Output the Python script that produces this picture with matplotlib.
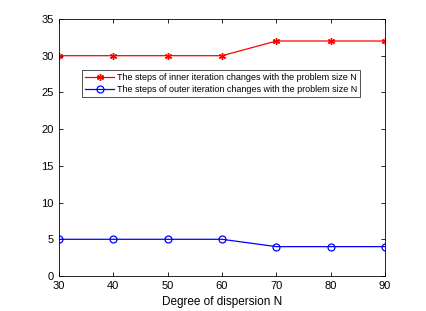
import matplotlib
matplotlib.use("Agg")
import matplotlib.pyplot as plt

plt.rcParams["font.family"] = ["Liberation Sans", "DejaVu Sans"]

# data
N_values = [30, 40, 50, 60, 70, 80, 90]
inner_steps = [30, 30, 30, 30, 32, 32, 32]
outer_steps = [5, 5, 5, 5, 4, 4, 4]

inner_label = "The steps of inner iteration changes with the problem size N"
outer_label = "The steps of outer iteration changes with the problem size N"

fig = plt.figure(figsize=(4.26, 3.11), dpi=100)
ax = fig.add_axes([0.1385, 0.1125, 0.7655, 0.8265])

ax.plot(N_values, inner_steps, color="red", marker=(6, 2, 0), markersize=5,
        markeredgewidth=1.0, linewidth=0.9, label=inner_label)
ax.plot(N_values, outer_steps, color="blue", marker="o", markersize=5,
        markerfacecolor="none", markeredgewidth=0.9, linewidth=0.9,
        label=outer_label)

ax.set_xlim(30, 90)
ax.set_ylim(0, 35)
ax.set_xticks(N_values)
ax.set_yticks(range(0, 36, 5))
ax.tick_params(direction="in", top=True, right=True, labelsize=8,
               length=3, width=0.6)
ax.tick_params(axis="x", pad=3.5)
ax.tick_params(axis="y", pad=4)
for s in ax.spines.values():
    s.set_linewidth(0.6)
ax.set_xlabel("Degree of dispersion N", fontsize=8.5, labelpad=3.5)

leg = ax.legend(loc="upper left", bbox_to_anchor=(0.0706, 0.8016),
                fontsize=6.5, frameon=True, fancybox=False, handlelength=3.2,
                borderpad=0.35, labelspacing=0.3, handletextpad=0.3,
                borderaxespad=0)
leg.get_frame().set_edgecolor("black")
leg.get_frame().set_linewidth(0.6)

fig.savefig("out.png", dpi=100)
